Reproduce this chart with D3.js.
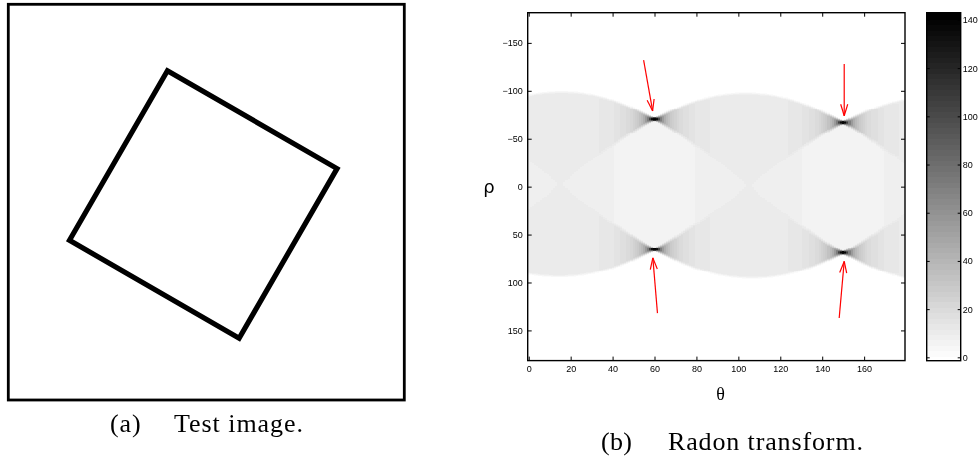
<!DOCTYPE html>
<html>
<head>
<meta charset="utf-8">
<script src="https://cdn.jsdelivr.net/npm/d3@7"></script>
<style>
  body { margin: 0; background: #fff; }
  #wrap { position: relative; width: 979px; height: 457px; }
  #wrap canvas, #wrap svg { position: absolute; left: 0; top: 0; }
</style>
</head>
<body>
<div id="wrap">
  <canvas id="heat" width="979" height="457"></canvas>
  <svg id="chart" width="979" height="457"></svg>
</div>
<script>
// test image: corners of the square outline (image units, y up, origin at image centre)
var squareCorners = [[-27.0, 91.3], [90.8, 23.3], [22.8, -94.5], [-95.0, -26.5]];
var squareLineWidth = 3.6; // thickness of the drawn outline, image units

// projection angles and offsets of the transform
var thetas = d3.range(0, 180);
var rhos = d3.range(-181, 182);

// axis ticks
var thetaTicks = [0, 20, 40, 60, 80, 100, 120, 140, 160];
var rhoTicks = [-150, -100, -50, 0, 50, 100, 150];
var cbarTicks = [0, 20, 40, 60, 80, 100, 120, 140];
var colorLimits = [-1.4, 143];

// red arrows pointing at the four peaks [theta, rho]
var arrowTails = [[54.8, -132], [61.4, 132], [150.5, -128], [148.1, 137]];
var arrowHeads = [[59.1, -79], [59.2, 74.3], [150.5, -74], [150.5, 78]];

var svg = d3.select("#chart");
var ctx = document.getElementById("heat").getContext("2d");

// ---------- (a) test image ----------
var imgBox = {left: 8.3, right: 404.3, top: 4.3, bottom: 400};
var ix = d3.scaleLinear().domain([-137.5, 137.5]).range([imgBox.left, imgBox.right]);
var iy = d3.scaleLinear().domain([-137.4, 137.4]).range([imgBox.bottom, imgBox.top]);

svg.append("rect")
  .attr("x", imgBox.left).attr("y", imgBox.top)
  .attr("width", imgBox.right - imgBox.left)
  .attr("height", imgBox.bottom - imgBox.top)
  .attr("fill", "none").attr("stroke", "#000").attr("stroke-width", 2.8);

svg.append("polygon")
  .attr("points", squareCorners.map(function (c) { return ix(c[0]) + "," + iy(c[1]); }).join(" "))
  .attr("fill", "none").attr("stroke", "#000")
  .attr("stroke-width", squareLineWidth * (ix(1) - ix(0)))
  .attr("stroke-linejoin", "miter");

// ---------- radon transform of the square outline ----------
// each side is a thick segment; its projection on a direction is a trapezoid
function trap(t, A, B, mass) {
  var hi = Math.max(A, B), lo = Math.min(A, B);
  if (hi < 1e-9) return 0;
  var at = Math.abs(t), h = mass / hi;
  if (at <= (hi - lo) / 2) return h;
  if (at >= (hi + lo) / 2) return 0;
  return h * ((hi + lo) / 2 - at) / lo;
}

var edges = squareCorners.map(function (p, k) {
  var q = squareCorners[(k + 1) % squareCorners.length];
  var dx = q[0] - p[0], dy = q[1] - p[1];
  var L = Math.sqrt(dx * dx + dy * dy);
  return {mx: (p[0] + q[0]) / 2, my: (p[1] + q[1]) / 2, ux: dx / L, uy: dy / L, L: L};
});

// binning kernel (pixel splitting spreads each sample over two bins)
var nk = 16, kern = [], ksum = 0;
for (var s = 0; s < nk; s++) {
  var off = -1 + (s + 0.5) * 2 / nk;
  kern.push({off: off, w: 1 - Math.abs(off)});
  ksum += 1 - Math.abs(off);
}

var radon = rhos.map(function () { return new Array(thetas.length); });
thetas.forEach(function (th, i) {
  var a = th * Math.PI / 180, nx = Math.cos(a), ny = Math.sin(a);
  var proj = edges.map(function (e) {
    return {
      m: e.mx * nx + e.my * ny,
      A: e.L * Math.abs(e.ux * nx + e.uy * ny),
      B: squareLineWidth * Math.abs(-e.uy * nx + e.ux * ny),
      mass: e.L * squareLineWidth
    };
  });
  rhos.forEach(function (r, j) {
    var v = 0;
    proj.forEach(function (p) {
      kern.forEach(function (k) { v += k.w * trap(r + k.off - p.m, p.A, p.B, p.mass); });
    });
    radon[j][i] = v / ksum;
  });
});

// ---------- (b) heat map ----------
var plot = {left: 527.7, right: 905, top: 12.7, bottom: 360.6};
var x = d3.scaleLinear().domain([-0.5, 179.5]).range([plot.left, plot.right]);
var y = d3.scaleLinear().domain([-181.5, 181.5]).range([plot.top, plot.bottom]);

var nLevels = 64;
var grays = d3.range(nLevels).map(function (k) {
  var g = Math.round(255 * (nLevels - 1 - k) / (nLevels - 1));
  return d3.rgb(g, g, g).toString();
});
var color = d3.scaleQuantize().domain(colorLimits).range(grays);

rhos.forEach(function (r, j) {
  var y0 = Math.round(y(r - 0.5)), y1 = Math.round(y(r + 0.5));
  thetas.forEach(function (th, i) {
    var x0 = Math.round(x(th - 0.5)), x1 = Math.round(x(th + 0.5));
    ctx.fillStyle = color(radon[j][i]);
    ctx.fillRect(x0, y0, x1 - x0, y1 - y0);
  });
});

var fmt = d3.format("");
var tickFont = "Liberation Sans, Arial, sans-serif";

function styleAxis(g) {
  g.select(".domain").remove();
  g.selectAll(".tick line").attr("stroke", "#000").attr("stroke-width", 1);
  g.selectAll(".tick text").attr("font-family", tickFont).attr("font-size", 9).attr("fill", "#000");
}

svg.append("g").attr("transform", "translate(" + plot.left + ",0)")
  .call(d3.axisLeft(y).tickValues(rhoTicks).tickSize(-4).tickPadding(5).tickFormat(fmt))
  .call(styleAxis);
svg.append("g").attr("transform", "translate(" + plot.right + ",0)")
  .call(d3.axisRight(y).tickValues(rhoTicks).tickSize(-4).tickFormat(""))
  .call(styleAxis);
svg.append("g").attr("transform", "translate(0," + plot.bottom + ")")
  .call(d3.axisBottom(x).tickValues(thetaTicks).tickSize(-4).tickPadding(5.5).tickFormat(fmt))
  .call(styleAxis);
svg.append("g").attr("transform", "translate(0," + plot.top + ")")
  .call(d3.axisTop(x).tickValues(thetaTicks).tickSize(-4).tickFormat(""))
  .call(styleAxis);

svg.append("rect")
  .attr("x", plot.left).attr("y", plot.top)
  .attr("width", plot.right - plot.left).attr("height", plot.bottom - plot.top)
  .attr("fill", "none").attr("stroke", "#000").attr("stroke-width", 1.4);

// axis labels
svg.append("text").attr("x", 489).attr("y", 193)
  .attr("text-anchor", "middle").attr("font-family", "DejaVu Sans, sans-serif")
  .attr("font-size", 18).text("ρ");
svg.append("text").attr("x", 720.5).attr("y", 399.5)
  .attr("text-anchor", "middle").attr("font-family", "Liberation Serif, serif")
  .attr("font-size", 18).text("θ");

// arrows
var arrows = svg.append("g").attr("stroke", "#ff0000").attr("stroke-width", 1.2).attr("fill", "none");
arrowTails.forEach(function (t, k) {
  var h = arrowHeads[k];
  var x0 = x(t[0]), y0 = y(t[1]), x1 = x(h[0]), y1 = y(h[1]);
  var ang = Math.atan2(y1 - y0, x1 - x0), len = 12, spread = 17 * Math.PI / 180;
  arrows.append("line").attr("x1", x0).attr("y1", y0).attr("x2", x1).attr("y2", y1);
  [-spread, spread].forEach(function (d) {
    arrows.append("line")
      .attr("x1", x1).attr("y1", y1)
      .attr("x2", x1 - len * Math.cos(ang + d))
      .attr("y2", y1 - len * Math.sin(ang + d));
  });
});

// ---------- colour bar ----------
var cb = {left: 926.7, right: 960.7, top: 12.7, bottom: 360.7};
var cy = d3.scaleLinear().domain(colorLimits).range([cb.bottom, cb.top]);
var step = (colorLimits[1] - colorLimits[0]) / nLevels;
svg.append("g").attr("shape-rendering", "crispEdges").selectAll("rect")
  .data(grays)
  .enter().append("rect")
    .attr("x", cb.left)
    .attr("y", function (d, k) { return Math.floor(cy(colorLimits[0] + (k + 1) * step)); })
    .attr("width", cb.right - cb.left)
    .attr("height", function (d, k) {
      return Math.ceil(cy(colorLimits[0] + k * step)) - Math.floor(cy(colorLimits[0] + (k + 1) * step)) + 1;
    })
    .attr("fill", function (d) { return d; });

svg.append("g").attr("transform", "translate(" + cb.right + ",0)")
  .call(d3.axisRight(cy).tickValues(cbarTicks).tickSize(-3).tickPadding(2).tickFormat(fmt))
  .call(styleAxis)
  .selectAll(".tick text").attr("x", 2);
svg.append("g").attr("transform", "translate(" + cb.left + ",0)")
  .call(d3.axisLeft(cy).tickValues(cbarTicks).tickSize(-3).tickFormat(""))
  .call(styleAxis);

svg.append("rect")
  .attr("x", cb.left).attr("y", cb.top)
  .attr("width", cb.right - cb.left).attr("height", cb.bottom - cb.top)
  .attr("fill", "none").attr("stroke", "#000").attr("stroke-width", 1.4);

// ---------- captions ----------
var capFont = "Liberation Serif, Times New Roman, serif";
function caption(txt, x0, width, base) {
  svg.append("text").attr("x", x0).attr("y", base)
    .attr("font-family", capFont).attr("font-size", 26)
    .attr("textLength", width).attr("lengthAdjust", "spacing")
    .text(txt);
}
caption("(a)", 110, 30.7, 432.3);
caption("Test image.", 174, 129, 432.3);
caption("(b)", 601, 31, 449.5);
caption("Radon transform.", 668, 195, 449.5);
</script>
</body>
</html>
